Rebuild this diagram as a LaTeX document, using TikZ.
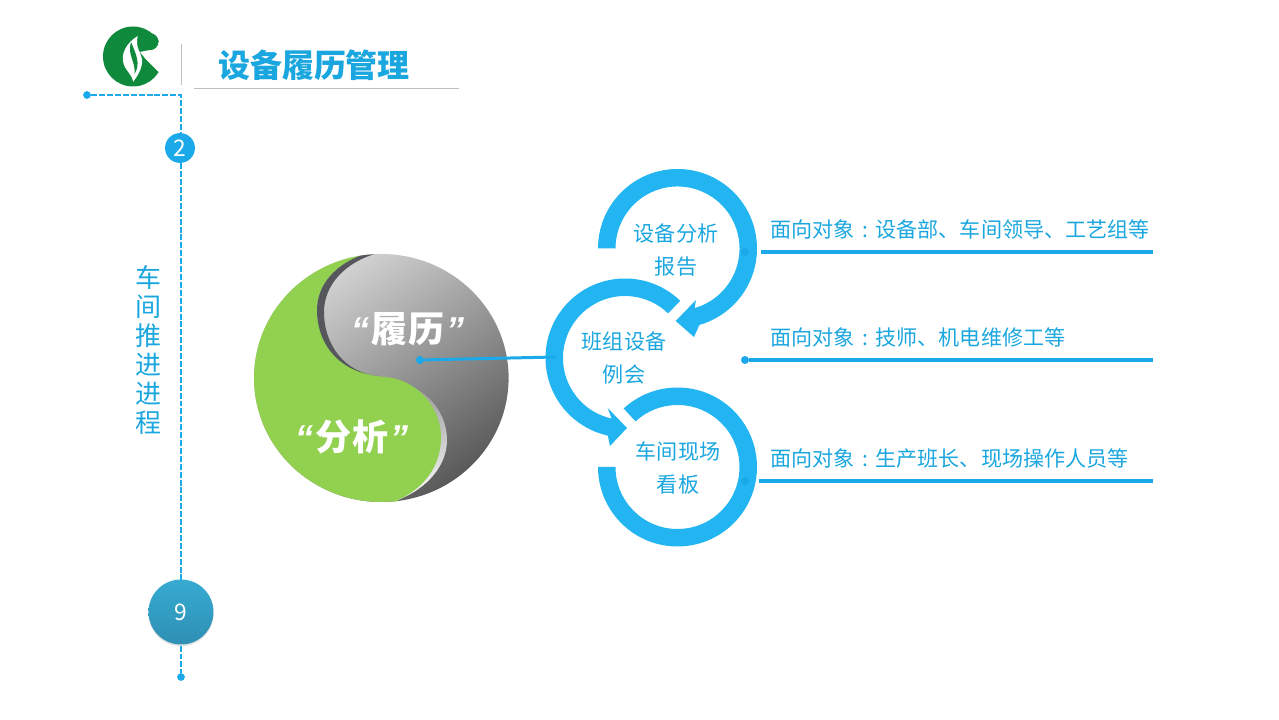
\documentclass[tikz,border=0pt]{standalone}
\usepackage{fontspec}
\setmainfont{Noto Sans CJK SC}
\newfontfamily\quotefont{Liberation Sans}
\usepackage{tikz}
\usetikzlibrary{shadows}
\definecolor{ringblue}{HTML}{22B5F2}
\definecolor{leadblue}{HTML}{1BA9EA}
\definecolor{textblue}{HTML}{1AA6DE}
\definecolor{logogreen}{HTML}{0F8A3C}
\definecolor{taigreen}{HTML}{92D050}
\definecolor{taidark}{HTML}{55575C}
\definecolor{ninetop}{HTML}{36ABD2}
\definecolor{ninebot}{HTML}{2F8FB3}
\newcommand{\colonmark}{\makebox[1em]{:}}
\newcommand{\qopen}{{\quotefont\bfseries\itshape “}\kern1.2pt}
\newcommand{\qclose}{\kern1.2pt{\quotefont\bfseries\itshape ”}}
\tikzset{
	dotmark/.style={circle, fill=leadblue, inner sep=0pt, minimum size=4.6pt},
	leadline/.style={draw=leadblue, line width=1.9pt},
	dashline/.style={draw=leadblue, line width=0.6pt, dash pattern=on 3.4pt off 1.1pt},
	ringtext/.style={text=textblue, align=center, font=\fontsize{12}{18.4}\selectfont},
	targettext/.style={text=textblue, anchor=west, font=\fontsize{12}{14}\selectfont},
	yytext/.style={text=white, font=\fontsize{20.5}{24}\selectfont\bfseries},
}
\begin{document}
\begin{tikzpicture}[x=0.02cm,y=0.02cm]
	\useasboundingbox (0,0) rectangle (1279,720);
	%logo
	\fill [logogreen] (133,663.5) circle (30);
	\fill [white] (150,670) -- (150,678) -- (168,678) -- (168,646) -- (158.3,648.3) -- (145,661.7) -- (140,668) -- cycle;
	\fill [logogreen] (150,678.3) circle (8.5);
	\fill [white] (137.7,684) .. controls (126,677) and (120,665) .. (124,655) .. controls (127,648) and (132,645) .. (133.3,638.3) .. controls (139,646) and (143,654) .. (142,661) .. controls (141,668) and (135,672) .. (137.7,684) -- cycle;
	\fill [logogreen] (131,678) .. controls (127,665) and (136,658) .. (134.5,646) .. controls (141,656) and (136,666) .. (131,678) -- cycle;
	%title
	\draw [gray!50, line width=0.5pt] (181,635) -- (181,676);
	\draw [gray!50, line width=0.5pt] (194,632) -- (459,632);
	\node [text=textblue, font=\fontsize{18.2}{22}\selectfont\bfseries] (title) at (314,655) {设备履历管理};
	%time line
	\node [dotmark, minimum size=4.4pt] (linestart) at (87,625) {};
	\node [dotmark, minimum size=4.4pt] (lineend) at (181,43) {};
	\coordinate (linecorner) at (181,625);
	\draw [dashline] (linestart) -- (linecorner) -- (lineend);
	\node [circle, fill=leadblue, text=white, inner sep=0pt, minimum size=17pt, font=\fontsize{13}{15}\selectfont] (stepa) at (180,572) {2};
	\node [circle, top color=ninetop, bottom color=ninebot, drop shadow={opacity=0.22, shadow xshift=0pt, shadow yshift=-1pt}, text=white, inner sep=0pt, minimum size=37pt, font=\fontsize{13}{15}\selectfont] (stepb) at (181,108) {9};
	\node [text=textblue, align=center, font=\fontsize{14.8}{16.4}\selectfont] (side) at (149,370) {车\\间\\推\\进\\进\\程};
	%yin yang
	\shade [top color=black!15, middle color=black!42, bottom color=black!65, shading angle=35] (381.3,342) ellipse (127.3 and 124);
	\begin{scope}
		\clip (381.3,342) ellipse (127.3 and 124);
		\shade [top color=black!40, middle color=white, bottom color=white] (400,337) .. controls (430,330) and (447,305) .. (447,280) .. controls (447,255) and (428,232) .. (398,220) -- (405,270) -- cycle;
		\fill [taigreen] (362,465) .. controls (335,455) and (317,435) .. (317,410) .. controls (317,375) and (345,346) .. (385,343) .. controls (420,340) and (441,310) .. (441,283) .. controls (441,255) and (425,232) .. (398,220) -- (398,200) -- (240,200) -- (240,480) -- (362,480) -- cycle;
		\fill [taidark] (362,465) .. controls (335,455) and (317,435) .. (317,410) .. controls (317,375) and (340,348) .. (378,344) .. controls (345,347) and (324,375) .. (324,408) .. controls (324,435) and (345,458) .. (378,467) -- cycle;
	\end{scope}
	\node [yytext] (lvli) at (408,391) {\qopen 履历\qclose};
	\node [yytext] (fenxi) at (352,283) {\qopen 分析\qclose};
	%rings
	\coordinate (ringa) at (677.5,471.5);
	\coordinate (ringb) at (625,362);
	\coordinate (ringc) at (677.5,253);
	\fill [ringblue] ([shift={(ringa)}]180:79.5) arc (180:-74:79.5) -- (694,383) -- (675.7,399) -- (696,420) -- ([shift={(ringa)}]-74:62) arc (-74:180:62) -- cycle;
	\fill [ringblue] ([shift={(ringb)}]46:79.5) arc (46:257.5:79.5) -- (610,274) -- (627,292) -- (607.7,312) -- ([shift={(ringb)}]257.5:62) arc (257.5:46:62) -- cycle;
	\fill [ringblue] ([shift={(ringc)}]132.6:79.5) arc (132.6:-180:79.5) -- ([shift={(ringc)}]-180:62) arc (-180:132.6:62) -- cycle;
	\node [ringtext] (reporta) at (676,470) {设备分析\\报告};
	\node [ringtext] (reportb) at (624,362) {班组设备\\例会};
	\node [ringtext] (reportc) at (678,252) {车间现场\\看板};
	%leads
	\node [dotmark] (yydot) at (420,360) {};
	\coordinate (yyend) at (556,363);
	\draw [leadline, line width=1.7pt] (yydot) -- (yyend);
	\node [dotmark] (dota) at (745,468) {};
	\node [dotmark] (dotb) at (745,360) {};
	\node [dotmark] (dotc) at (745,239) {};
	\coordinate (starta) at (760.5,468);
	\coordinate (enda) at (1153,468);
	\coordinate (endb) at (1153,360);
	\coordinate (startc) at (758.5,239);
	\coordinate (endc) at (1153,239);
	\draw [leadline] (starta) -- (enda);
	\draw [leadline] (dotb) -- (endb);
	\draw [leadline] (startc) -- (endc);
	\node [targettext] (targeta) at (764,491) {面向对象\colonmark 设备部、车间领导、工艺组等};
	\node [targettext] (targetb) at (764,383) {面向对象\colonmark 技师、机电维修工等};
	\node [targettext] (targetc) at (764,261) {面向对象\colonmark 生产班长、现场操作人员等};
\end{tikzpicture}
\end{document}
